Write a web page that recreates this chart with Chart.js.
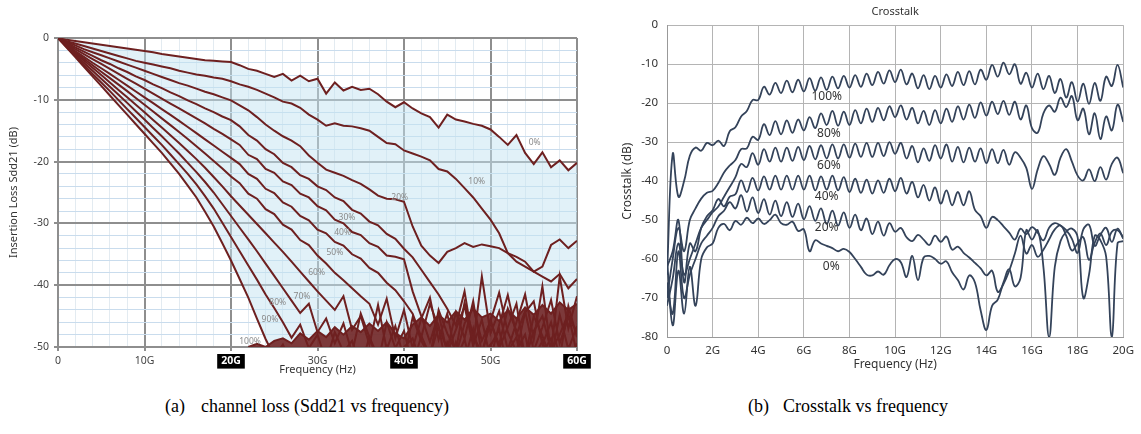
<!DOCTYPE html>
<html>
<head>
<meta charset="utf-8">
<script src="https://cdn.jsdelivr.net/npm/chart.js@4"></script>
<style>
  body { margin: 0; background: #fff; width: 1141px; height: 434px; position: relative; overflow: hidden; }
  #lossBox { position: absolute; left: 0; top: 0; width: 600px; height: 384px; }
  #xtBox { position: absolute; left: 605px; top: 0; width: 536px; height: 384px; }
  .cap { position: absolute; top: 396px; font-family: "Liberation Serif", "DejaVu Serif", serif; font-size: 18px; line-height: 20px; color: #000; white-space: nowrap; }
</style>
</head>
<body>
<div id="lossBox"><canvas id="chart-loss" width="600" height="384"></canvas></div>
<div id="xtBox"><canvas id="chart-xt" width="536" height="384"></canvas></div>
<div class="cap" style="left:165px">(a)</div>
<div class="cap" style="left:201px">channel loss (Sdd21 vs frequency)</div>
<div class="cap" style="left:748px">(b)</div>
<div class="cap" style="left:783px">Crosstalk vs frequency</div>
<script>
/******** (a) channel loss data, GHz / dB ********/
const freqA = [0,1,2,3,4,5,6,7,8,9,10,11,12,13,14,15,16,17,18,19,20,21,22,23,24,25,26,27,28,29,30,
  31,32,33,34,35,36,37,38,39,40,41,42,43,44,45,46,47,48,49,50,51,52,53,54,55,56,57,58,59,60];

const loss0 = [0,-0.3,-0.5,-0.7,-0.9,-1.1,-1.3,-1.5,-1.7,-1.9,-2.1,
  -2.3,-2.6,-2.8,-3.0,-3.2,-3.4,-3.6,-3.7,-3.8,-3.9,
  -4.4,-5.0,-5.3,-5.8,-6.3,-5.8,-6.9,-6.1,-7.0,-6.6,
  -9.0,-7.2,-8.5,-7.9,-8.4,-8.2,-9.1,-10.3,-11.2,-10.4,
  -11.4,-12.2,-12.8,-14.5,-12.4,-13.2,-13.5,-13.9,-14.2,-14.8,
  -16.0,-17.3,-15.7,-18.6,-20.4,-18.5,-20.9,-19.8,-21.4,-20.2];
const loss10 = [0,-0.5,-0.9,-1.3,-1.7,-2.1,-2.5,-2.9,-3.3,-3.7,-4.0,
  -4.3,-4.6,-4.9,-5.3,-5.6,-5.9,-6.1,-6.4,-6.6,-7.0,
  -7.5,-7.9,-8.4,-9.0,-9.6,-10.3,-10.6,-11.3,-12.4,-13.2,
  -14.2,-13.8,-14.2,-14.3,-14.6,-15.0,-16.0,-17.0,-17.2,-18.2,
  -18.7,-19.2,-19.8,-21.2,-21.6,-22.8,-24.3,-25.8,-27.6,-29.4,
  -31.6,-34.8,-36.2,-37.0,-37.8,-38.6,-39.4,-38.2,-40.5,-39.0];
const loss20 = [0,-0.6,-1.2,-1.8,-2.3,-2.8,-3.3,-3.8,-4.3,-4.8,-5.3,
  -5.8,-6.3,-6.8,-7.3,-7.7,-8.2,-8.7,-9.1,-9.6,-10.1,
  -10.9,-11.7,-12.8,-14.0,-15.0,-15.9,-16.6,-17.5,-19.0,-20.2,
  -21.3,-21.8,-22.3,-23.0,-23.6,-24.5,-25.5,-26.0,-26.1,-26.5,
  -30.5,-33.6,-35.2,-36.4,-34.6,-34.0,-33.2,-33.8,-33.4,-33.7,
  -34.0,-34.8,-35.4,-36.2,-37.8,-37.0,-33.5,-32.6,-34.0,-32.8];
const loss30 = [0,-0.75,-1.5,-2.2,-2.9,-3.6,-4.2,-4.9,-5.5,-6.2,-6.8,
  -7.5,-8.1,-8.8,-9.4,-10.1,-10.7,-11.4,-12.0,-12.7,-13.3,
  -14.3,-15.7,-16.6,-18.0,-18.8,-20.2,-20.9,-22.2,-22.8,-24.0,
  -24.6,-25.8,-26.4,-27.8,-28.4,-29.7,-30.3,-31.7,-32.5,-34.1,
  -35.5,-37.5,-39.5,-41.5,-43.8,-46.5,-41.0,-49.5,-38.6,-47.8,
  -44.2,-50.5,-46.0,-41.5,-48.8,-40.2,-50.8,-38.6,-47.0,-41.8];
const loss40 = [0,-0.9,-1.8,-2.6,-3.4,-4.2,-5.0,-5.8,-6.6,-7.4,-8.2,
  -9.0,-9.8,-10.6,-11.4,-12.2,-13.0,-13.8,-14.7,-15.5,-16.4,
  -17.3,-18.9,-19.6,-21.2,-21.8,-23.2,-23.8,-25.2,-25.8,-27.2,
  -27.9,-29.4,-30.0,-31.4,-31.9,-33.2,-33.8,-35.2,-35.4,-35.8,
  -41.0,-45.0,-49.2,-44.6,-51.0,-47.2,-43.4,-49.8,-45.6,-52.0,
  -46.4,-41.6,-48.0,-44.2,-50.6,-46.8,-42.4,-49.4,-45.2,-47.6];
const loss50 = [0,-1.05,-2.1,-3.05,-4.0,-4.9,-5.8,-6.75,-7.7,-8.65,-9.6,
  -10.55,-11.5,-12.45,-13.4,-14.4,-15.4,-16.4,-17.4,-18.4,-19.4,
  -20.4,-22.0,-22.8,-24.4,-25.1,-26.6,-27.3,-28.8,-29.5,-31.0,
  -31.6,-33.0,-33.6,-35.0,-35.7,-37.2,-38.0,-39.6,-40.8,-42.6,
  -44.6,-48.4,-43.0,-46.8,-50.4,-44.4,-48.6,-42.6,-51.2,-46.0,
  -49.6,-43.8,-47.4,-51.6,-45.0,-48.2,-52.0,-44.8,-50.4,-46.6];
const loss60 = [0,-1.15,-2.3,-3.35,-4.4,-5.45,-6.5,-7.55,-8.6,-9.7,-10.8,
  -11.9,-13.0,-14.1,-15.2,-16.35,-17.5,-18.7,-19.9,-21.1,-22.4,
  -23.5,-25.2,-26.0,-27.7,-28.5,-30.2,-31.0,-32.7,-33.5,-35.2,
  -36.5,-38.0,-39.2,-40.5,-41.8,-43.0,-46.4,-42.2,-48.6,-44.0,
  -50.2,-45.4,-42.0,-48.8,-44.6,-51.4,-46.2,-43.6,-49.0,-45.8,
  -41.2,-47.6,-50.8,-44.4,-42.6,-49.6,-46.0,-51.8,-43.4,-48.4];
const loss70 = [0,-1.25,-2.5,-3.65,-4.8,-6.0,-7.2,-8.4,-9.6,-10.8,-12.0,
  -13.25,-14.5,-15.75,-17.0,-18.3,-19.6,-21.0,-22.5,-24.0,-25.6,
  -27.1,-28.6,-30.1,-31.6,-33.1,-34.6,-36.2,-37.8,-39.4,-41.0,
  -42.5,-44.0,-41.8,-47.2,-45.0,-49.6,-43.2,-50.4,-46.6,-52.0,
  -45.2,-49.0,-51.6,-44.0,-47.8,-50.6,-42.8,-48.2,-51.0,-45.6,
  -50.2,-46.8,-43.0,-52.0,-47.4,-45.0,-50.6,-48.0,-44.6,-51.2];
const loss80 = [0,-1.35,-2.7,-4.0,-5.3,-6.6,-7.9,-9.2,-10.5,-11.85,-13.2,
  -14.55,-15.9,-17.3,-18.7,-20.2,-21.7,-23.3,-25.0,-26.9,-28.8,
  -30.7,-32.6,-34.5,-36.5,-38.5,-40.5,-42.5,-44.5,-43.0,-47.6,
  -45.4,-49.4,-46.2,-51.0,-44.6,-48.4,-52.6,-46.0,-50.2,-47.4,
  -53.0,-48.2,-51.4,-46.6,-54.0,-49.2,-52.2,-47.0,-53.6,-49.8,
  -47.2,-53.4,-50.6,-48.0,-54.4,-51.0,-48.6,-53.0,-50.0,-52.6];
const loss90 = [0,-1.45,-2.9,-4.35,-5.8,-7.2,-8.6,-10.05,-11.5,-12.95,-14.4,
  -15.85,-17.3,-18.85,-20.4,-22.0,-23.7,-25.6,-27.6,-29.9,-32.2,
  -34.5,-36.8,-39.1,-41.5,-43.7,-46.0,-48.5,-46.4,-50.2,-48.0,
  -52.4,-47.6,-50.8,-49.0,-53.2,-48.4,-51.6,-49.8,-54.0,-50.0,
  -48.6,-52.8,-50.4,-55.0,-49.2,-52.0,-48.8,-54.2,-51.2,-49.6,
  -53.8,-50.8,-48.4,-55.2,-51.8,-49.0,-53.4,-50.6,-55.0,-49.4];
const loss100 = [0,-1.55,-3.1,-4.65,-6.2,-7.75,-9.3,-10.85,-12.4,-13.95,-15.5,
  -17.05,-18.6,-20.3,-22.0,-23.9,-25.8,-28.1,-30.5,-33.2,-36.0,
  -39.0,-42.0,-45.4,-48.7,-51.6,-49.6,-53.0,-50.4,-54.2,-51.2,
  -55.0,-50.8,-53.6,-51.8,-55.6,-50.6,-54.4,-52.0,-56.0,-51.4,
  -54.8,-50.2,-53.2,-56.0,-51.6,-54.6,-50.8,-55.4,-52.4,-56.2,
  -51.0,-54.0,-50.6,-55.8,-52.8,-50.4,-56.4,-51.8,-54.2,-52.2];
// top edge of the solid measurement noise floor (nothing below 22G)
const noiseFloor = [null,null,null,null,null,null,null,null,null,null,null,
  null,null,null,null,null,null,null,null,null,null,
  null,-50.0,-49.5,-50.0,-49.0,-48.6,-49.4,-47.8,-48.8,-47.4,
  -48.4,-46.8,-48.0,-46.6,-47.6,-46.2,-47.4,-46.0,-47.8,-48.6,
  -46.4,-45.2,-46.6,-44.8,-46.0,-44.2,-45.6,-43.8,-45.2,-44.6,
  -45.8,-44.0,-45.4,-43.6,-44.8,-43.2,-44.6,-42.8,-44.0,-43.0];

const lossNames = ['0%','10%','20%','30%','40%','50%','60%','70%','80%','90%','100%'];
// where the small grey curve labels sit (GHz, dB)
const lossLabelX = [55.1, 48.4, 39.5, 33.4, 32.9, 32.0, 29.9, 28.2, 25.4, 24.5, 22.2];
const lossLabelY = [-16.9, -23.2, -25.8, -29.0, -31.5, -34.7, -38.0, -41.8, -42.8, -45.6, -49.1];

/******** (b) crosstalk data, GHz / dB ********/
const freqB = [0,0.25,0.5,0.75,1,1.25,1.5,1.75,2,2.25,2.5,2.75,3,3.25,3.5,3.75,4,4.25,4.5,4.75,
  5,5.25,5.5,5.75,6,6.25,6.5,6.75,7,7.25,7.5,7.75,8,8.25,8.5,8.75,9,9.25,9.5,9.75,
  10,10.25,10.5,10.75,11,11.25,11.5,11.75,12,12.25,12.5,12.75,13,13.25,13.5,13.75,14,14.25,14.5,14.75,
  15,15.25,15.5,15.75,16,16.25,16.5,16.75,17,17.25,17.5,17.75,18,18.25,18.5,18.75,19,19.25,19.5,19.75,20];

const xt100 = [-64,-33,-44,-40, -33.5,-31.4,-32.2,-30.2, -30.8,-29.6,-31.0,-27.2, -26.2,-23.4,-22.0,-19.2,
  -19.2,-15.8,-17.8,-14.8, -17.4,-14.2,-17.2,-14.0, -17.0,-13.6,-16.8,-13.4, -16.6,-13.2,-16.2,-13.0,
  -16.0,-12.8,-15.8,-12.4, -15.4,-12.0,-15.0,-11.6, -14.6,-11.4,-15.2,-12.4, -16.2,-12.8,-16.4,-13.0,
  -16.0,-12.6,-15.6,-12.0, -15.4,-11.8,-15.2,-11.4, -14.0,-10.2,-13.2,-9.6, -12.6,-10.0,-15.0,-12.2,
  -16.0,-12.4,-16.4,-13.0, -17.4,-13.8,-18.6,-14.6, -19.6,-15.0,-20.2,-14.8, -19.4,-13.2,-15.6,-10.2, -16.0];
const xt80 = [-70,-60,-52,-58, -50,-47,-44.5,-43, -42.5,-40.5,-37.8,-36.0, -34.6,-31.8,-31.6,-28.6,
  -29.4,-25.4,-28.2,-24.6, -28.0,-24.4,-27.6,-24.2, -27.0,-23.6,-26.4,-22.6, -25.6,-22.0,-25.8,-22.2,
  -25.6,-21.8,-25.2,-21.4, -24.8,-21.2,-24.4,-20.8, -23.6,-20.6,-24.2,-21.2, -25.2,-22.0,-25.6,-21.8,
  -25.2,-21.4,-24.8,-20.8, -24.2,-20.4,-23.8,-19.8, -23.2,-19.6,-22.8,-19.4, -23.0,-19.6,-24.2,-20.6,
  -26.4,-27.6,-22.6,-20.6, -22.2,-18.6,-21.0,-18.2, -24.4,-21.4,-28.0,-22.6, -29.2,-23.4,-27.0,-20.4, -24.8];
const xt60 = [-72,-65,-56,-64, -60,-56,-52,-50, -48,-46.5,-44,-41.5, -39.0,-35.6,-36.4,-32.8,
  -35.8,-31.8,-35.0,-31.4, -35.0,-31.4,-34.8,-31.2, -34.6,-31.0,-34.4,-30.8, -34.2,-30.6,-34.2,-30.6,
  -34.0,-30.4,-33.8,-30.2, -33.8,-30.2,-33.6,-30.0, -33.0,-30.2,-34.2,-31.0, -35.2,-31.6,-34.8,-30.8,
  -34.2,-30.6,-35.0,-31.2, -35.2,-31.4,-35.0,-31.6, -35.4,-31.8,-35.4,-32.0, -35.8,-32.6,-34.0,-36.6,
  -42.0,-37.0,-33.6,-35.6, -38.4,-34.0,-31.8,-35.0, -38.6,-39.8,-37.0,-40.0, -36.4,-39.6,-35.6,-34.0, -38.0];
const xt40 = [-62,-58,-50,-66, -56,-58,-52,-49, -47.5,-44.6,-46.5,-44.0, -43.4,-39.8,-42.8,-39.2,
  -42.4,-38.8,-42.2,-38.6, -42.2,-38.6,-42.2,-38.6, -42.2,-38.6,-42.4,-38.8, -42.2,-38.6,-42.4,-39.0,
  -42.8,-39.4,-43.0,-39.6, -43.2,-39.8,-43.0,-39.4, -42.6,-39.2,-43.2,-40.2, -44.2,-41.0,-45.0,-41.6,
  -45.8,-42.4,-46.2,-42.8, -46.2,-42.6,-47.4,-49.0, -52.0,-49.2,-50.0,-51.6, -53.2,-55.0,-52.2,-53.6,
  -51.8,-53.2,-55.2,-52.0, -50.8,-51.4,-52.6,-54.8, -58.4,-52.4,-51.2,-56.6, -53.8,-52.0,-55.6,-52.2, -54.8];
const xt20 = [-66,-74,-58,-70, -64,-60,-56,-54, -52,-49,-47.6,-45.4, -47.0,-43.6,-47.8,-44.2,
  -48.2,-44.6,-48.6,-45.0, -49.0,-45.4,-49.2,-45.8, -49.8,-46.4,-50.2,-47.0, -51.0,-47.6,-51.4,-48.0,
  -52.0,-48.6,-52.6,-49.6, -53.6,-50.4,-54.0,-50.8, -53.0,-52.0,-54.4,-55.4, -53.8,-55.0,-56.4,-54.0,
  -55.6,-54.2,-57.6,-56.8, -58.4,-59.6,-61.0,-62.4, -64.2,-63.0,-68.4,-66.4, -63.0,-58.6,-54.0,-58.6,
  -56.4,-59.4,-57.6,-55.0, -52.4,-51.4,-54.0,-57.8, -56.0,-54.4,-60.2,-55.8, -53.4,-56.4,-53.0,-52.6, -54.4];
const xt0 = [-60,-77,-63,-74, -62,-72,-60,-57, -56,-52,-51,-52.6, -50.2,-51.2,-49.4,-50.8,
  -49.6,-51.0,-50.0,-48.6, -50.8,-51.2,-50.4,-52.8, -52.4,-58.0,-55.2,-56.0, -56.6,-57.2,-58.0,-57.4,
  -58.2,-60.0,-62.0,-64.0, -64.2,-63.2,-64.0,-61.6, -60.0,-60.8,-64.6,-59.2, -65.4,-59.6,-59.2,-60.0,
  -61.2,-60.6,-63.4,-65.4, -67.8,-64.2,-66.0,-73.2, -78.2,-72.0,-70.4,-66.0, -62.6,-67.0,-64.8,-52.6,
  -55.0,-52.6,-62.0,-80.0, -62.0,-55.4,-53.0,-52.2, -54.4,-70.0,-64.0,-54.0, -55.2,-59.4,-80.0,-56.0, -55.4];

const xtNames = ['100%','80%','60%','40%','20%','0%'];
const xtLabelX = [7.0, 7.1, 7.1, 7.0, 7.0, 7.2];
const xtLabelY = [-18.4, -27.7, -35.9, -43.9, -51.9, -61.9];

// small text labels drawn next to the curves
function curveLabels(names, xs, ys, font, color) {
  return {
    id: 'curveLabels',
    afterDatasetsDraw(chart) {
      const {ctx, scales} = chart;
      ctx.save();
      ctx.font = font;
      ctx.fillStyle = color;
      ctx.textAlign = 'center';
      ctx.textBaseline = 'middle';
      names.forEach((t, i) => {
        ctx.fillText(t, scales.x.getPixelForValue(xs[i]), scales.y.getPixelForValue(ys[i]));
      });
      ctx.restore();
    }
  };
}

// tick value from a scriptable context (undefined outside of ticks)
const tv = c => (c && c.tick) ? c.tick.value : NaN;
const isMajor = v => v % 10 === 0;
const boxed = v => v === 20 || v === 40 || v === 60;
const sans = 'Noto Sans';
const maroon = '#6e2020';

/******** (a) channel loss ********/
const lossSeries = [loss0, loss10, loss20, loss30, loss40, loss50, loss60, loss70, loss80, loss90, loss100];

const lossSets = lossSeries.map((s, i) => ({
  label: lossNames[i],
  data: s.map((v, j) => ({x: freqA[j], y: v})),
  borderColor: maroon,
  borderWidth: 2,
  pointRadius: 0,
  tension: 0,
  fill: i === 0 ? 10 : false,
  backgroundColor: 'rgba(196,228,242,0.5)'
}));
lossSets.push({
  label: 'noise floor',
  data: noiseFloor.map((v, j) => ({x: freqA[j], y: v})),
  borderColor: maroon,
  borderWidth: 2,
  pointRadius: 0,
  tension: 0,
  spanGaps: false,
  fill: 'start',
  backgroundColor: 'rgba(110,32,32,0.88)',
  order: -1
});

new Chart(document.getElementById('chart-loss'), {
  type: 'line',
  data: { datasets: lossSets },
  options: {
    responsive: false,
    animation: false,
    layout: { padding: { left: 0, right: 23, top: 38, bottom: 0 } },
    plugins: {
      legend: { display: false },
      tooltip: { enabled: false },
      filler: { drawTime: 'beforeDatasetsDraw' }
    },
    scales: {
      x: {
        type: 'linear', min: 0, max: 60,
        afterFit: s => { s.height = 37; },
        border: { color: '#8e8e8e', width: 2 },
        grid: {
          color: c => isMajor(tv(c)) ? '#8e8e8e' : '#e3ebf1',
          lineWidth: c => isMajor(tv(c)) ? 2 : 1,
          tickColor: c => isMajor(tv(c)) ? '#8e8e8e' : 'rgba(0,0,0,0)',
          tickLength: 4
        },
        ticks: {
          stepSize: 2, autoSkip: false, maxRotation: 0, padding: 4,
          callback: v => v === 0 ? '0' : (isMajor(v) ? v + 'G' : ''),
          color: c => boxed(tv(c)) ? '#fff' : '#444',
          font: c => ({ family: sans, size: 10.5, weight: boxed(tv(c)) ? 'bold' : 'normal' }),
          showLabelBackdrop: true,
          backdropColor: c => boxed(tv(c)) ? '#000' : 'rgba(0,0,0,0)',
          backdropPadding: { x: 4, y: 1 }
        },
        title: { display: true, text: 'Frequency (Hz)', color: '#333', font: { family: sans, size: 11 }, padding: { top: 0, bottom: 8 } }
      },
      y: {
        min: -50, max: 0,
        afterFit: s => { s.width = 58; },
        border: { color: '#8e8e8e', width: 2 },
        grid: {
          color: c => isMajor(tv(c)) ? '#8e8e8e' : '#c9dced',
          lineWidth: c => isMajor(tv(c)) ? 2 : 1,
          tickColor: c => isMajor(tv(c)) ? '#8e8e8e' : 'rgba(0,0,0,0)',
          tickLength: 4
        },
        ticks: {
          stepSize: 2, autoSkip: false, padding: 5,
          callback: v => isMajor(v) ? String(v) : '',
          color: '#444', font: { family: sans, size: 10.5 }
        },
        title: { display: true, text: 'Insertion Loss Sdd21 (dB)', color: '#333', font: { family: sans, size: 11 }, padding: { top: 7, bottom: 0 } }
      }
    }
  },
  plugins: [curveLabels(lossNames, lossLabelX, lossLabelY, '8.5px "Noto Sans"', '#8a8a8a')]
});

/******** (b) crosstalk ********/
const xtSeries = [xt100, xt80, xt60, xt40, xt20, xt0];

new Chart(document.getElementById('chart-xt'), {
  type: 'line',
  data: {
    datasets: xtSeries.map((s, i) => ({
      label: xtNames[i],
      data: s.map((v, j) => ({x: freqB[j], y: v})),
      borderColor: '#34435a',
      borderWidth: 1.8,
      pointRadius: 0,
      tension: 0.4,
      fill: false
    }))
  },
  options: {
    responsive: false,
    animation: false,
    layout: { padding: { left: 0, right: 9, top: 0, bottom: 0 } },
    plugins: {
      legend: { display: false },
      tooltip: { enabled: false },
      title: { display: true, text: 'Crosstalk', fullSize: false, color: '#333', font: { family: sans, size: 11, weight: 'normal' }, padding: { top: 5, bottom: 7 } }
    },
    scales: {
      x: {
        type: 'linear', min: 0, max: 20,
        afterFit: s => { s.height = 47; },
        border: { color: '#999' },
        grid: { color: '#b4b4b4', drawTicks: false },
        ticks: {
          stepSize: 2, autoSkip: false, maxRotation: 0, padding: 7,
          callback: v => v === 0 ? '0' : v + 'G',
          color: '#333', font: { family: sans, size: 11.5 }
        },
        title: { display: true, text: 'Frequency (Hz)', color: '#333', font: { family: sans, size: 12 }, padding: { top: 0, bottom: 12 } }
      },
      y: {
        min: -80, max: 0,
        afterFit: s => { s.width = 62; },
        border: { color: '#999' },
        grid: { color: '#b4b4b4', drawTicks: false },
        ticks: { stepSize: 10, padding: 9, color: '#333', font: { family: sans, size: 11.5 } },
        title: { display: true, text: 'Crosstalk (dB)', color: '#333', font: { family: sans, size: 12 }, padding: { top: 15, bottom: 0 } }
      }
    }
  },
  plugins: [curveLabels(xtNames, xtLabelX, xtLabelY, '12px "Noto Sans"', '#333')]
});
</script>
</body>
</html>
